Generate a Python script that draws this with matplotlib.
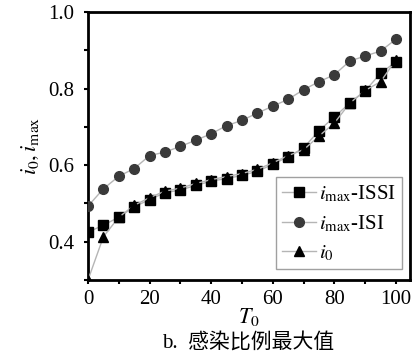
import matplotlib
matplotlib.use("Agg")
import matplotlib.pyplot as plt
from matplotlib.ticker import MultipleLocator

plt.rcParams['font.family'] = ['Liberation Serif', 'Noto Sans CJK SC']
plt.rcParams['mathtext.fontset'] = 'stix'

T0 = [0, 5, 10, 15, 20, 25, 30, 35, 40, 45, 50, 55, 60, 65, 70, 75, 80, 85, 90, 95, 100]
imax_issi = [0.425, 0.443, 0.464, 0.491, 0.510, 0.528, 0.535, 0.547, 0.558, 0.565, 0.573,
             0.584, 0.602, 0.622, 0.645, 0.690, 0.726, 0.762, 0.794, 0.840, 0.870]
imax_isi = [0.493, 0.538, 0.571, 0.591, 0.625, 0.634, 0.649, 0.665, 0.682, 0.703, 0.717,
            0.736, 0.754, 0.772, 0.797, 0.818, 0.836, 0.872, 0.885, 0.898, 0.929]
i0 = [0.300, 0.413, 0.464, 0.495, 0.515, 0.532, 0.540, 0.552, 0.562, 0.570, 0.578,
      0.589, 0.606, 0.625, 0.640, 0.676, 0.710, 0.762, 0.795, 0.818, 0.875]

labels = [r'$i_{\mathrm{max}}$-ISSI', r'$i_{\mathrm{max}}$-ISI', r'$i_0$']

fig = plt.figure(figsize=(4.14, 3.58), dpi=100)
ax = fig.add_axes([0.2126, 0.218, 0.7774, 0.7485])

line_c = '#b5b5b5'
ax.plot(T0, imax_issi, color=line_c, lw=1.0, marker='s', ms=6.5,
        mfc='black', mec='black', label=labels[0], zorder=3)
ax.plot(T0, imax_isi, color=line_c, lw=1.0, marker='o', ms=7,
        mfc='#3a3a3a', mec='#3a3a3a', label=labels[1], zorder=3)
ax.plot(T0, i0, color=line_c, lw=1.0, marker='^', ms=7.5,
        mfc='black', mec='black', label=labels[2], zorder=4)

ax.set_xlim(0, 104.5)
ax.set_ylim(0.3, 1.0)
ax.xaxis.set_major_locator(MultipleLocator(20))
ax.xaxis.set_minor_locator(MultipleLocator(10))
ax.yaxis.set_major_locator(MultipleLocator(0.2))
ax.yaxis.set_minor_locator(MultipleLocator(0.1))
ax.set_yticks([0.4, 0.6, 0.8, 1.0])
ax.tick_params(which='both', direction='out', length=3, width=1.5, labelsize=15)
ax.tick_params(axis='y', which='major', pad=7)
ax.tick_params(axis='x', which='major', pad=4)

for s in ax.spines.values():
    s.set_linewidth(2.0)
    s.set_color('black')

ax.set_xlabel(r'$T_0$', fontsize=16, labelpad=-2)
ax.set_ylabel(r'$i_0,i_{\mathrm{max}}$', fontsize=16, labelpad=5)

leg = ax.legend(loc='upper left', bbox_to_anchor=(0.584, 0.384), borderaxespad=0,
                fontsize=15, frameon=True, fancybox=False, edgecolor='#888888',
                handlelength=1.6, handletextpad=0.15, labelspacing=0.45,
                borderpad=0.3)
leg.get_frame().set_linewidth(1.0)

fig.text(0.6, 0.042, 'b.  感染比例最大值', ha='center', va='center', fontsize=15)

fig.savefig('out.png', dpi=100)
